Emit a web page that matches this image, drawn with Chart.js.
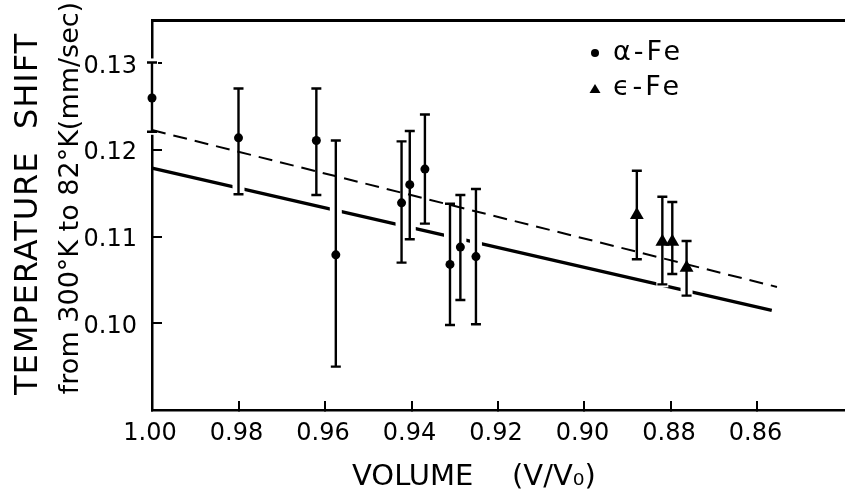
<!DOCTYPE html>
<html><head><meta charset="utf-8">
<script src="https://cdn.jsdelivr.net/npm/chart.js@4.4.1/dist/chart.umd.min.js"></script>
<style>html,body{margin:0;padding:0;background:#fff;}canvas{display:block;}</style>
</head><body>
<canvas id="c" width="852" height="495"></canvas>
<script>
// ---- data ----
const alphaVolume = [1.000, 0.980, 0.962, 0.9575, 0.9423, 0.9404, 0.9369, 0.9311, 0.9287, 0.9251];
const alphaShift  = [0.1260, 0.1214, 0.1211, 0.1079, 0.1139, 0.1160, 0.1178, 0.1068, 0.1088, 0.1077];
const alphaHigh   = [0.1301, 0.1271, 0.1271, 0.1211, 0.1210, 0.1222, 0.1241, 0.1138, 0.1148, 0.1155];
const alphaLow    = [0.1221, 0.1149, 0.1148, 0.0950, 0.1070, 0.1097, 0.1115, 0.0998, 0.1027, 0.0999];

const epsVolume = [0.8879, 0.8820, 0.8797, 0.8764];
const epsShift  = [0.1125, 0.1094, 0.1094, 0.1064];
const epsHigh   = [0.1176, 0.1146, 0.1140, 0.1095];
const epsLow    = [0.1074, 0.1045, 0.1057, 0.1032];

const dashedVolume = [1.000, 0.8555];
const dashedShift  = [0.1223, 0.1042];
const solidVolume  = [1.000, 0.8567];
const solidShift   = [0.1179, 0.1015];

const xTickValues = [1.00, 0.98, 0.96, 0.94, 0.92, 0.90, 0.88, 0.86];
const yTickValues = [0.10, 0.11, 0.12, 0.13];
const xRange = [0.84, 1.00];
const yRange = [0.090, 0.1350];

const legendLabels = ['α-Fe', 'ϵ-Fe'];
const yTitleMain = 'TEMPERATURE  SHIFT';
const yTitleSub = 'from 300°K to 82°K(mm/sec)';
const xTitleWord = 'VOLUME';
const xTitleUnit = '(V/V₀)';

const pts = (xs, ys) => xs.map((v, i) => ({x: v, y: ys[i]}));
const errorSets = [
  {ds: 2, x: alphaVolume, hi: alphaHigh, lo: alphaLow},
  {ds: 3, x: epsVolume, hi: epsHigh, lo: epsLow}
];
const FONT = '"DejaVu Sans", "Liberation Sans", sans-serif';

const errorBarPlugin = {
  id: 'errorBars',
  afterDatasetDraw(chart, args) {
    if (args.index !== 0) return;
    // white gaps where bars cross the solid fit line / axis
    const ctx = chart.ctx, xs = chart.scales.x, ys = chart.scales.y;
    ctx.save();
    ctx.fillStyle = '#fff';
    errorSets.forEach(s => s.x.forEach((v, k) => {
      const px = xs.getPixelForValue(v);
      const t = ys.getPixelForValue(s.hi[k]);
      const b = ys.getPixelForValue(s.lo[k]);
      ctx.fillRect(px - 6, t - 4, 12, b - t + 7);
    }));
    ctx.restore();
  },
  beforeDatasetDraw(chart, args) {
    const ctx = chart.ctx, xs = chart.scales.x, ys = chart.scales.y;
    errorSets.forEach(s => {
      if (s.ds !== args.index) return;
      ctx.save();
      ctx.strokeStyle = '#000';
      ctx.lineWidth = 2.4;
      s.x.forEach((v, k) => {
        const px = xs.getPixelForValue(v);
        const t = ys.getPixelForValue(s.hi[k]);
        const b = ys.getPixelForValue(s.lo[k]);
        ctx.beginPath();
        ctx.moveTo(px, t); ctx.lineTo(px, b);
        ctx.moveTo(px - 5, t); ctx.lineTo(px + 5, t);
        ctx.moveTo(px - 5, b); ctx.lineTo(px + 5, b);
        ctx.stroke();
      });
      ctx.restore();
    });
  }
};

const textPlugin = {
  id: 'texts',
  afterDraw(chart) {
    const ctx = chart.ctx;
    ctx.save();
    ctx.fillStyle = '#000';
    // y titles
    ctx.save();
    ctx.translate(37, 214); ctx.rotate(-Math.PI / 2);
    ctx.font = '32px ' + FONT; ctx.textAlign = 'center'; ctx.textBaseline = 'alphabetic';
    ctx.letterSpacing = '1px';
    ctx.fillText(yTitleMain, 0, 0);
    ctx.restore();
    ctx.save();
    ctx.translate(78, 198); ctx.rotate(-Math.PI / 2);
    ctx.font = '27px ' + FONT; ctx.textAlign = 'center'; ctx.textBaseline = 'alphabetic';
    ctx.fillText(yTitleSub, 0, 0);
    ctx.restore();
    // x title
    ctx.font = '29px ' + FONT; ctx.textAlign = 'left'; ctx.textBaseline = 'alphabetic';
    ctx.fillText(xTitleWord, 352, 485);
    ctx.fillText(xTitleUnit, 512, 485);
    // legend
    ctx.beginPath(); ctx.arc(595, 53, 4, 0, Math.PI * 2); ctx.fill();
    ctx.beginPath(); ctx.moveTo(595, 84); ctx.lineTo(600.5, 93); ctx.lineTo(589.5, 93); ctx.closePath(); ctx.fill();
    ctx.font = '27px ' + FONT;
    ctx.letterSpacing = '3px';
    ctx.fillText(legendLabels[0], 613, 60);
    ctx.fillText(legendLabels[1], 613, 95);
    ctx.restore();
  }
};

const tickFont = {family: FONT, size: 24};

new Chart(document.getElementById('c'), {
  type: 'line',
  data: {
    datasets: [
      {label: 'fit (solid)', data: pts(solidVolume, solidShift), borderColor: '#000', borderWidth: 3.4,
       pointRadius: 0, fill: false, order: 4, xAxisID: 'x', yAxisID: 'y', clip: false},
      {label: 'fit (dashed)', data: pts(dashedVolume, dashedShift), borderColor: '#000', borderWidth: 2,
       borderDash: [14, 8], pointRadius: 0, fill: false, order: 3, xAxisID: 'x', yAxisID: 'y', clip: false},
      {label: legendLabels[0], data: pts(alphaVolume, alphaShift), showLine: false, pointStyle: 'circle',
       pointRadius: 4.5, pointBackgroundColor: '#000', pointBorderWidth: 0, order: 2, xAxisID: 'x', yAxisID: 'y', clip: false},
      {label: legendLabels[1], data: pts(epsVolume, epsShift), showLine: false, pointStyle: 'triangle',
       pointRadius: 8, pointBackgroundColor: '#000', pointBorderWidth: 0, order: 1, xAxisID: 'x', yAxisID: 'y', clip: false}
    ]
  },
  options: {
    responsive: false,
    devicePixelRatio: 1,
    animation: false,
    layout: {padding: 0},
    plugins: {legend: {display: false}, tooltip: {enabled: false}},
    scales: {
      xTop: {
        type: 'linear', position: 'top', min: xRange[0], max: xRange[1], reverse: true,
        ticks: {display: false}, grid: {display: false},
        border: {display: true, width: 3, color: '#000'},
        afterFit(s) { s.height = 20; s.paddingLeft = 0; s.paddingRight = 0; }
      },
      x: {
        type: 'linear', position: 'bottom', min: xRange[0], max: xRange[1], reverse: true,
        afterBuildTicks(s) { s.ticks = xTickValues.map(v => ({value: v})); },
        ticks: {color: '#000', font: tickFont, padding: 18, maxRotation: 0, autoSkip: false, labelOffset: -2,
                callback: v => Number(v).toFixed(2)},
        grid: {display: true, drawOnChartArea: false, drawTicks: true, tickLength: -9, color: '#000', lineWidth: 2},
        border: {display: true, width: 2.5, color: '#000'},
        afterFit(s) { s.height = 85; s.paddingLeft = 0; s.paddingRight = 0; }
      },
      y: {
        type: 'linear', position: 'left', min: yRange[0], max: yRange[1],
        afterBuildTicks(s) { s.ticks = yTickValues.map(v => ({value: v})); },
        ticks: {color: '#000', font: tickFont, padding: 25, autoSkip: false, labelOffset: 3,
                callback: v => Number(v).toFixed(2)},
        grid: {display: true, drawOnChartArea: false, drawTicks: true, tickLength: -10, color: '#000', lineWidth: 2},
        border: {display: true, width: 2.5, color: '#000'},
        afterFit(s) { s.width = 152; s.paddingTop = 0; s.paddingBottom = 0; }
      }
    }
  },
  plugins: [errorBarPlugin, textPlugin]
});
</script>
</body></html>
